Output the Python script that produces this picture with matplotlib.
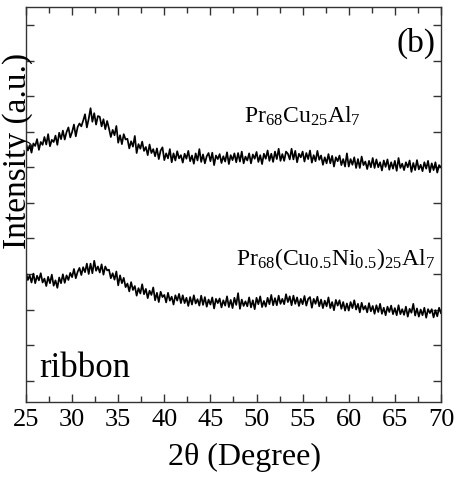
import numpy as np
import matplotlib
matplotlib.use("Agg")
import matplotlib.pyplot as plt
from matplotlib.ticker import MultipleLocator

plt.rcParams['font.family'] = ['Liberation Serif', 'DejaVu Serif']
plt.rcParams['mathtext.fontset'] = 'custom'
plt.rcParams['mathtext.rm'] = 'Liberation Serif'
plt.rcParams['mathtext.it'] = 'Liberation Serif:italic'
plt.rcParams['mathtext.bf'] = 'Liberation Serif:bold'

# 2theta grid (degrees), 0.2 step from 25 to 70
two_theta_start = 25.0
two_theta_step = 0.2

upper_counts = [
    669, 647, 662, 641, 667,  660, 679, 649, 671, 663,  685, 664, 693, 659, 677,
    671, 689, 663, 697, 679,  703, 678, 699, 712, 684,  699, 720, 687, 713, 723,
    715, 731, 749, 712, 736,  766, 728, 752, 720, 744,  742, 715, 735, 707, 730,
    709, 685, 705, 690, 716,  669, 690, 665, 693, 678,  680, 653, 673, 658, 688,
    640, 665, 652, 672, 646,  657, 634, 664, 640, 651,  631, 653, 623, 647, 656,
    620, 639, 625, 651, 614,  639, 619, 645, 625, 634,  613, 638, 624, 646, 617,
    633, 610, 639, 619, 651,  615, 636, 611, 631, 640,  617, 641, 606, 633, 623,
    637, 612, 631, 616, 642,  609, 634, 620, 639, 614,  640, 616, 644, 611, 630,
    619, 639, 611, 636, 624,  643, 615, 634, 609, 638,  624, 647, 618, 638, 615,
    644, 623, 652, 618, 637,  618, 644, 638, 622, 652,  622, 646, 614, 638, 628,
    644, 616, 640, 623, 647,  613, 634, 617, 646, 621,  633, 607, 628, 611, 637,
    611, 632, 602, 628, 617,  633, 606, 623, 602, 639,  602, 623, 607, 628, 598,
    623, 598, 630, 606, 616,  595, 618, 600, 626, 598,  622, 600, 614, 591, 619,
    601, 622, 593, 614, 596,  618, 590, 626, 598, 610,  592, 614, 600, 619, 587,
    612, 592, 620, 594, 607,  589, 614, 596, 618, 586,  611, 592, 614, 585, 606,
    600,
]

lower_counts = [
    305, 283, 296, 276, 301,  274, 295, 282, 302, 276,  287, 266, 292, 274, 298,
    267, 282, 261, 290, 274,  299, 275, 296, 283, 303,  291, 314, 288, 306, 317,
    297, 319, 305, 329, 300,  329, 302, 337, 309, 321,  304, 327, 298, 321, 310,
    312, 288, 302, 284, 307,  268, 296, 274, 289, 263,  273, 251, 277, 255, 266,
    239, 260, 245, 271, 243,  258, 232, 253, 241, 262,  226, 247, 221, 250, 235,
    241, 220, 247, 225, 236,  214, 240, 225, 244, 218,  240, 218, 233, 210, 235,
    214, 240, 217, 229, 211,  239, 213, 235, 208, 228,  214, 234, 203, 230, 218,
    231, 206, 226, 211, 237,  207, 227, 204, 233, 213,  246, 202, 228, 210, 223,
    209, 234, 206, 226, 201,  233, 215, 237, 207, 224,  208, 233, 215, 241, 212,
    232, 212, 239, 216, 230,  215, 243, 221, 237, 212,  239, 216, 234, 210, 230,
    215, 238, 211, 230, 235,  205, 230, 216, 236, 209,  228, 204, 225, 209, 234,
    204, 221, 198, 227, 211,  226, 202, 221, 197, 217,  197, 221, 204, 226, 200,
    216, 192, 219, 200, 210,  192, 218, 195, 210, 188,  212, 193, 216, 188, 205,
    184, 208, 193, 211, 187,  204, 184, 212, 187, 201,  185, 208, 180, 202, 191,
    216, 183, 203, 180, 200,  184, 205, 177, 201, 190,  201, 178, 198, 181, 205,
    190,
]

x_ticks = [25, 30, 35, 40, 45, 50, 55, 60, 65, 70]
label_upper = r'$\mathrm{Pr_{68}Cu_{25}Al_{7}}$'
label_lower = r'$\mathrm{Pr_{68}(Cu_{0.5}Ni_{0.5})_{25}Al_{7}}$'

two_theta = two_theta_start + two_theta_step * np.arange(len(upper_counts))

fig = plt.figure(figsize=(4.56, 4.80), dpi=100)
ax = fig.add_axes([0.057, 0.1625, 0.910, 0.8225])

ax.plot(two_theta, upper_counts, color='black', lw=1.25)
ax.plot(two_theta, lower_counts, color='black', lw=1.25)

ax.set_xlim(25, 70)
ax.set_ylim(-60, 1050)
ax.set_xticks(x_ticks)
ax.xaxis.set_minor_locator(MultipleLocator(2.5))
ax.yaxis.set_major_locator(MultipleLocator(100))
ax.set_yticklabels([])
ax.tick_params(axis='both', which='both', direction='in', top=True, right=True,
               width=1.0, color='#333333')
ax.tick_params(axis='both', which='major', length=6)
ax.tick_params(axis='both', which='minor', length=4)
ax.tick_params(axis='x', which='major', labelsize=19, pad=5)
ax.tick_params(axis='y', which='both', labelleft=False)
for s in ax.spines.values():
    s.set_linewidth(1.0)
    s.set_color('#333333')

ax.text(69.4, 949, '(b)', fontsize=24, ha='right', va='center')
ax.text(48.6, 724, label_upper, fontsize=17, ha='left', va='baseline')
ax.text(47.8, 325, label_lower, fontsize=17, ha='left', va='baseline')
ax.text(26.4, 10, 'ribbon', fontsize=25, ha='left', va='baseline')

fig.text(0.039, 0.685, 'Intensity (a.u.)', rotation=90, fontsize=24,
         ha='center', va='center')
fig.text(0.537, 0.046, '2θ (Degree)', fontsize=23, ha='center', va='center')

fig.savefig('out.png', dpi=100)
